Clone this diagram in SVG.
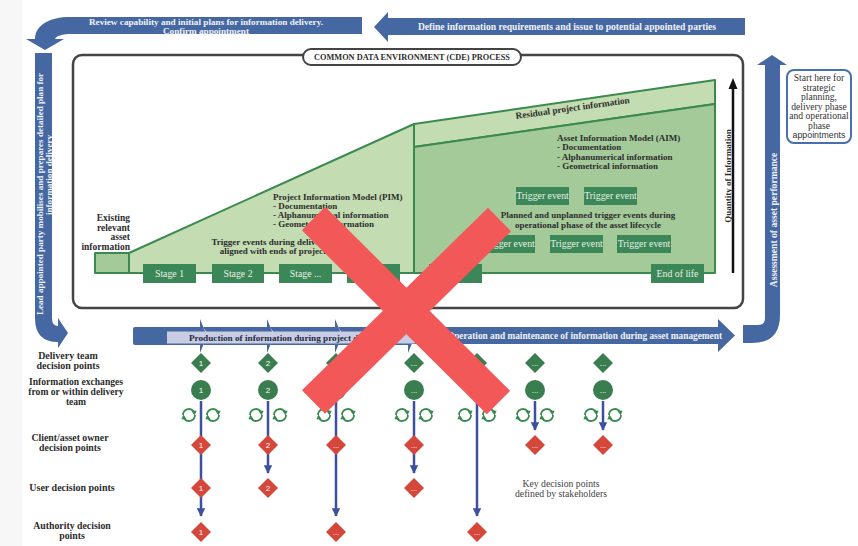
<svg xmlns="http://www.w3.org/2000/svg" width="858" height="546" viewBox="0 0 858 546">
<defs>
<style>
.t{font-family:"Liberation Serif","DejaVu Serif",serif}
.b{font-weight:bold}
.dk{fill:#2d2d2d}
.wh{fill:#f1f3f8}
.bn{fill:#4568a3}
.gbox{fill:#3b8757}
.gst{stroke:#3a8a4f;stroke-width:2;stroke-linejoin:round}
.gd{fill:#3a7e50}
.rd{fill:#d5473b}
.ln{stroke:#3d4f9f;stroke-width:2.5;fill:none}
.bx{fill:#e9f0e6;font-size:9.8px}
.dt{fill:#ffffff;font-size:8px;font-family:"Liberation Sans",sans-serif}
</style>
<marker id="ah" viewBox="0 0 10 10" refX="9" refY="5" markerWidth="3.4" markerHeight="3.6" orient="auto"><path d="M0,0 L10,5 L0,10 Z" fill="#3d4f9f"/></marker>
<path id="dia" d="M0,-10 L10,0 L0,10 L-10,0 Z"/>
<g id="cyc" fill="none" stroke="#3a8a4f" stroke-width="1.8">
<path d="M-6,0 A6,6 0 0 1 4.6,-3.8"/>
<path d="M6,0 A6,6 0 0 1 -4.6,3.8"/>
<path d="M2.2,-4.6 L7.6,-4.2 L5.6,0.4 Z" fill="#3a8a4f" stroke="none"/>
<path d="M-2.2,4.6 L-7.6,4.2 L-5.6,-0.4 Z" fill="#3a8a4f" stroke="none"/>
</g>
</defs>
<rect width="858" height="546" fill="#ffffff"/>
<rect width="22" height="546" fill="#f7f7f7"/>

<g id="banner-review">
<path class="bn" d="M362,17 L70,17 C50,17 35,25 35,39 L26,39 L45,50 L64,39 L55,39 C56,36 62,34 72,34 L362,34 Z"/>
<text class="t b wh" x="206" y="24.5" text-anchor="middle" font-size="9.2">Review capability and initial plans for information delivery.</text>
<text class="t b wh" x="206" y="33.5" text-anchor="middle" font-size="9.2">Confirm appointment</text>
</g>

<g id="banner-define">
<path class="bn" d="M745,18 L388,18 L388,12 L374,27 L388,42 L388,35 L745,35 Z"/>
<text class="t b wh" x="567" y="30" text-anchor="middle" font-size="9.6">Define information requirements and issue to potential appointed parties</text>
</g>

<g id="banner-lead">
<path class="bn" d="M35,53 L52,53 L52,318 Q52,326 58,326 L58,318 L68,333 L58,348 L58,342 Q35,342 35,318 Z"/>
<text class="t b wh" transform="translate(43,194) rotate(-90)" text-anchor="middle" font-size="9.1">Lead appointed party  mobilises and prepares detailed plan for</text>
<text class="t b wh" transform="translate(52,175) rotate(-90)" text-anchor="middle" font-size="9.1">information delivery</text>
</g>

<g id="banner-assessment">
<path class="bn" d="M743,325 L758,325 Q765,325 765,318 L765,65 L757,65 L772,55 L787,65 L780,65 L780,315 Q780,343 752,343 L743,343 Z"/>
<text class="t b wh" transform="translate(776.5,220) rotate(-90)" text-anchor="middle" font-size="9.6">Assessment of asset performance</text>
</g>

<g id="start-here">
<rect x="787" y="70" width="64" height="73" rx="7" fill="#ffffff" stroke="#4a6fae" stroke-width="2"/>
<g class="t" fill="#333" font-size="9.6" text-anchor="middle">
<text x="819" y="81">Start here for</text>
<text x="819" y="90.5">strategic</text>
<text x="819" y="100">planning,</text>
<text x="819" y="109.5">delivery phase</text>
<text x="819" y="119">and operational</text>
<text x="819" y="128.5">phase</text>
</g>
<text x="819" y="138" text-anchor="middle" fill="#333" font-size="8.8" font-family="Liberation Sans, sans-serif">appointments</text>
</g>

<g id="cde-process">
<rect x="73" y="55" width="670" height="253" rx="9" fill="none" stroke="#444" stroke-width="2.5"/>
<rect x="303" y="49" width="218" height="16" rx="8" fill="#ffffff" stroke="#444" stroke-width="2"/>
<text class="t b dk" x="412" y="60.3" text-anchor="middle" font-size="8.3">COMMON DATA ENVIRONMENT (CDE) PROCESS</text>
</g>

<g id="existing-info">
<rect x="95" y="253" width="34" height="20" fill="#a4ca9a" class="gst"/>
<g class="t b dk" font-size="9.5" text-anchor="end">
<text x="130" y="221">Existing</text>
<text x="130" y="230.5">relevant</text>
<text x="130" y="240">asset</text>
<text x="130" y="249.5">information</text>
</g>
</g>

<g id="pim">
<polygon points="129,273 129,253 414,124 414,273" fill="#c4dcb1" class="gst"/>
<g class="t b dk" font-size="9">
<text x="273" y="200">Project Information Model (PIM)</text>
<text x="273" y="209">- Documentation</text>
<text x="273" y="218">- Alphanumerical information</text>
<text x="273" y="227">- Geometrical information</text>
<text x="285.5" y="245" text-anchor="middle">Trigger events during delivery, usually</text>
<text x="285.5" y="254" text-anchor="middle">aligned with ends of project stages</text>
</g>
</g>

<g id="residual">
<polygon points="414,124 715,80 715,104 414,147" fill="#c4dcb1" class="gst"/>
<text class="t b dk" transform="translate(573,111) rotate(-8)" text-anchor="middle" font-size="9.3">Residual project information</text>
</g>

<g id="aim">
<polygon points="414,147 715,104 715,273 414,273" fill="#a4ca9a" class="gst"/>
<g class="t b dk" font-size="9">
<text x="557" y="141">Asset Information Model (AIM)</text>
<text x="557" y="150">- Documentation</text>
<text x="557" y="160">- Alphanumerical information</text>
<text x="557" y="169">- Geometrical information</text>
<text x="588" y="218" text-anchor="middle">Planned and unplanned trigger events during</text>
<text x="588" y="228" text-anchor="middle">operational phase of the asset lifecycle</text>
</g>
</g>

<g id="stage-1"><rect class="gbox" x="143" y="264" width="53" height="19"/><text class="t bx" x="169.5" y="277" text-anchor="middle" font-size="9.5">Stage 1</text></g>
<g id="stage-2"><rect class="gbox" x="212" y="264" width="52" height="19"/><text class="t bx" x="238" y="277" text-anchor="middle" font-size="9.5">Stage 2</text></g>
<g id="stage-3"><rect class="gbox" x="279" y="264" width="53" height="19"/><text class="t bx" x="305.5" y="277" text-anchor="middle" font-size="9.5">Stage ...</text></g>
<g id="stage-4"><rect class="gbox" x="347" y="264" width="53" height="19"/></g>
<g id="stage-5"><rect class="gbox" x="429" y="264" width="53" height="19"/></g>
<g id="end-of-life"><rect class="gbox" x="651" y="264" width="53" height="19"/><text class="t bx" x="677.5" y="277" text-anchor="middle" font-size="9.3">End of life</text></g>

<g id="trigger-1"><rect class="gbox" x="516" y="187" width="53" height="18"/><text class="t bx" x="542.5" y="199.3" text-anchor="middle">Trigger event</text></g>
<g id="trigger-2"><rect class="gbox" x="584" y="187" width="53" height="18"/><text class="t bx" x="610.5" y="199.3" text-anchor="middle">Trigger event</text></g>
<g id="trigger-3"><rect class="gbox" x="482" y="235" width="53" height="18"/><text class="t bx" x="508.5" y="247.3" text-anchor="middle">Trigger event</text></g>
<g id="trigger-4"><rect class="gbox" x="550" y="235" width="53" height="18"/><text class="t bx" x="576.5" y="247.3" text-anchor="middle">Trigger event</text></g>
<g id="trigger-5"><rect class="gbox" x="617" y="235" width="54" height="18"/><text class="t bx" x="644" y="247.3" text-anchor="middle">Trigger event</text></g>

<g id="quantity">
<line x1="733" y1="273" x2="733" y2="86" stroke="#111" stroke-width="2.5"/>
<polygon points="728.5,89 733,78 737.5,89" fill="#111"/>
<text class="t b dk" transform="translate(730.5,176) rotate(-90)" text-anchor="middle" font-size="9">Quantity of Information</text>
</g>

<g id="timeline">
<path class="bn" d="M135,327 L200,327 L200,319 L207,336 L200,353 L200,345 L135,345 Q133,345 133,343 L133,329 Q133,327 135,327 Z"/>
<path class="bn" d="M203,327 L267,327 L267,319 L274,336 L267,353 L267,345 L203,345 L209,336 Z"/>
<path class="bn" d="M270,327 L335,327 L335,319 L342,336 L335,353 L335,345 L270,345 L276,336 Z"/>
<path class="bn" d="M338,327 L408,327 L408,319 L415,336 L408,353 L408,345 L338,345 L344,336 Z"/>
<path class="bn" d="M411,327 L718,327 L718,319 L735,335.5 L718,352 L718,344 L411,344 L417,336 Z"/>
<rect x="167" y="331.5" width="248" height="12" fill="#c8cde3"/>
<text class="t b" x="189" y="341" fill="#1f2a44" font-size="9.2">Production of information during project delivery</text>
<text class="t b wh" x="722" y="339" text-anchor="end" font-size="9.3">Operation and maintenance of information during asset management</text>
</g>

<g id="row-labels" class="t b dk" text-anchor="middle">
<text x="68" y="358.5" font-size="10">Delivery team</text>
<text x="68" y="368.5" font-size="10">decision points</text>
<text x="76" y="385" font-size="9.6">Information exchanges</text>
<text x="76" y="394.8" font-size="9.6">from or within delivery</text>
<text x="76" y="404.6" font-size="9.6">team</text>
<text x="70" y="441" font-size="9.8">Client/asset owner</text>
<text x="70" y="451" font-size="9.8">decision points</text>
<text x="72" y="490.5" font-size="10">User decision points</text>
<text x="72" y="529" font-size="9.8">Authority decision</text>
<text x="72" y="539" font-size="9.8">points</text>
</g>

<g id="key-note" class="t" fill="#444" font-size="9.7" text-anchor="middle">
<text x="561" y="486.5">Key decision points</text>
<text x="561" y="496.5">defined by stakeholders</text>
</g>

<g id="connectors">
<path class="ln" d="M201,401 L201,516" marker-end="url(#ah)"/>
<path class="ln" d="M268,401 L268,473" marker-end="url(#ah)"/>
<path class="ln" d="M336,401 L336,516" marker-end="url(#ah)"/>
<path class="ln" d="M414,401 L414,473" marker-end="url(#ah)"/>
<path class="ln" d="M477,401 L477,516" marker-end="url(#ah)"/>
<path class="ln" d="M535,401 L535,430" marker-end="url(#ah)"/>
<path class="ln" d="M603,401 L603,430" marker-end="url(#ah)"/>
</g>

<g id="cycles">
<use href="#cyc" x="189" y="415"/><use href="#cyc" x="213" y="415"/>
<use href="#cyc" x="256" y="415"/><use href="#cyc" x="280" y="415"/>
<use href="#cyc" x="324" y="415"/><use href="#cyc" x="348" y="415"/>
<use href="#cyc" x="402" y="415"/><use href="#cyc" x="426" y="415"/>
<use href="#cyc" x="465" y="415"/><use href="#cyc" x="489" y="415"/>
<use href="#cyc" x="523" y="415"/><use href="#cyc" x="547" y="415"/>
<use href="#cyc" x="591" y="415"/><use href="#cyc" x="615" y="415"/>
</g>

<g id="delivery-decisions">
<g id="dd-1"><use href="#dia" class="gd" x="201" y="363"/><text class="dt" x="201" y="366" text-anchor="middle">1</text></g>
<g id="dd-2"><use href="#dia" class="gd" x="268" y="363"/><text class="dt" x="268" y="366" text-anchor="middle">2</text></g>
<g id="dd-3"><use href="#dia" class="gd" x="336" y="363"/><text class="dt" x="336" y="366" text-anchor="middle">...</text></g>
<g id="dd-4"><use href="#dia" class="gd" x="414" y="363"/><text class="dt" x="414" y="366" text-anchor="middle">...</text></g>
<g id="dd-5"><use href="#dia" class="gd" x="477" y="363"/><text class="dt" x="477" y="366" text-anchor="middle">...</text></g>
<g id="dd-6"><use href="#dia" class="gd" x="535" y="363"/><text class="dt" x="535" y="366" text-anchor="middle">...</text></g>
<g id="dd-7"><use href="#dia" class="gd" x="603" y="363"/><text class="dt" x="603" y="366" text-anchor="middle">...</text></g>
</g>

<g id="exchanges">
<g id="ex-1"><circle class="gd" cx="201" cy="390" r="10"/><text class="dt" x="201" y="393" text-anchor="middle">1</text></g>
<g id="ex-2"><circle class="gd" cx="268" cy="390" r="10"/><text class="dt" x="268" y="393" text-anchor="middle">2</text></g>
<g id="ex-3"><circle class="gd" cx="336" cy="390" r="10"/><text class="dt" x="336" y="393" text-anchor="middle">...</text></g>
<g id="ex-4"><circle class="gd" cx="414" cy="390" r="10"/><text class="dt" x="414" y="393" text-anchor="middle">...</text></g>
<g id="ex-5"><circle class="gd" cx="477" cy="390" r="10"/><text class="dt" x="477" y="393" text-anchor="middle">...</text></g>
<g id="ex-6"><circle class="gd" cx="535" cy="390" r="10"/><text class="dt" x="535" y="393" text-anchor="middle">...</text></g>
<g id="ex-7"><circle class="gd" cx="603" cy="390" r="10"/><text class="dt" x="603" y="393" text-anchor="middle">...</text></g>
</g>

<g id="client-decisions">
<g id="cd-1"><use href="#dia" class="rd" x="201" y="445"/><text class="dt" x="201" y="448" text-anchor="middle">1</text></g>
<g id="cd-2"><use href="#dia" class="rd" x="268" y="445"/><text class="dt" x="268" y="448" text-anchor="middle">2</text></g>
<g id="cd-3"><use href="#dia" class="rd" x="336" y="445"/><text class="dt" x="336" y="448" text-anchor="middle">...</text></g>
<g id="cd-4"><use href="#dia" class="rd" x="414" y="445"/><text class="dt" x="414" y="448" text-anchor="middle">...</text></g>
<g id="cd-6"><use href="#dia" class="rd" x="535" y="445"/><text class="dt" x="535" y="448" text-anchor="middle">...</text></g>
<g id="cd-7"><use href="#dia" class="rd" x="603" y="445"/><text class="dt" x="603" y="448" text-anchor="middle">...</text></g>
</g>

<g id="user-decisions">
<g id="ud-1"><use href="#dia" class="rd" x="201" y="488"/><text class="dt" x="201" y="491" text-anchor="middle">1</text></g>
<g id="ud-2"><use href="#dia" class="rd" x="268" y="488"/><text class="dt" x="268" y="491" text-anchor="middle">2</text></g>
<g id="ud-4"><use href="#dia" class="rd" x="414" y="488"/><text class="dt" x="414" y="491" text-anchor="middle">...</text></g>
</g>

<g id="authority-decisions">
<g id="ad-1"><use href="#dia" class="rd" x="201" y="532"/><text class="dt" x="201" y="535" text-anchor="middle">1</text></g>
<g id="ad-3"><use href="#dia" class="rd" x="336" y="532"/><text class="dt" x="336" y="535" text-anchor="middle">...</text></g>
<g id="ad-5"><use href="#dia" class="rd" x="477" y="532"/><text class="dt" x="477" y="535" text-anchor="middle">...</text></g>
</g>

<g id="cross" stroke="#f35858" stroke-width="33" stroke-linecap="butt">
<line x1="313.5" y1="218.5" x2="498.5" y2="402.5"/>
<line x1="499.5" y1="219.5" x2="313.5" y2="402"/>
</g>
</svg>
